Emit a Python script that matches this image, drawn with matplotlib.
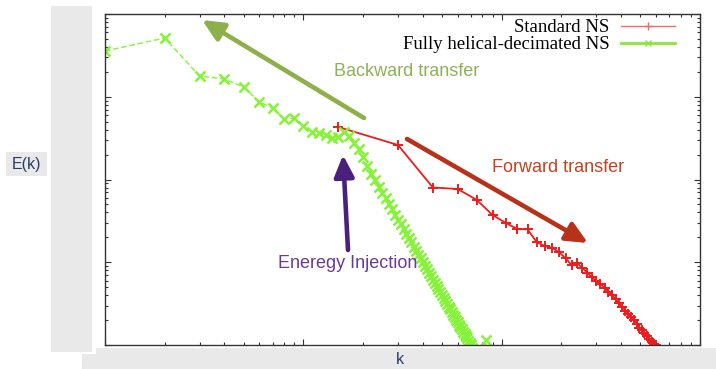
import numpy as np
import matplotlib
matplotlib.use('Agg')
import matplotlib.pyplot as plt
from matplotlib.lines import Line2D
from matplotlib.patches import Rectangle
from matplotlib.ticker import NullFormatter

# energy spectra
k_std = np.arange(15, 631, 15)
E_std = [0.0431, 0.0261, 0.00800, 0.00768, 0.00565, 0.00372, 0.00298, 0.00252,
         0.00250, 0.00176, 0.00157, 0.00149, 0.00132, 0.00112, 0.000926, 0.000980,
         0.00085, 0.00075, 0.00066, 0.00059, 0.00055, 0.00049, 0.00044, 0.00040,
         0.00036, 0.00032, 0.00029, 0.00026, 0.00024, 0.00022, 0.00020, 0.00018,
         0.00016, 0.000150, 0.000138, 0.000127, 0.000117, 0.000110, 0.000104,
         0.0000995, 0.000093, 0.000087]

k_hel = np.arange(1, 87)
E_hel = [0.357, 0.513, 0.178, 0.164, 0.131, 0.0865, 0.0731, 0.0538, 0.0554, 0.0443,
         0.0375, 0.0365, 0.0345, 0.0316, 0.0326, 0.0375, 0.0336, 0.0276, 0.0234, 0.0187,
         0.0146, 0.0118, 0.00979, 0.00822, 0.00695, 0.00590, 0.00505, 0.00435, 0.00377,
         0.00328, 0.00286, 0.00252, 0.00221, 0.00196, 0.00174, 0.00155, 0.00138, 0.00124,
         0.00111, 0.00100, 0.000906, 0.000820, 0.000743, 0.000676, 0.000617, 0.000564,
         0.000515, 0.000473, 0.000435, 0.000400, 0.000368, 0.000340, 0.000315, 0.000291,
         0.000270, 0.000251, 0.000233, 0.000217, 0.000202, 0.000188, 0.000176, 0.000165,
         0.000154, 0.000145, 0.000136, 0.000127, 0.000120, 0.000112, 0.000106, 0.0000998,
         0.0000930, 0.0000860, 0.0000790, 0.0000720, 0.0000660, 0.0000600, 0.0000540,
         0.0000490, 0.0000440, 0.0000400, 0.0000360, 0.0000330, 0.000115, 0.0000290,
         0.0000260, 0.0000230]

labels = ['Standard NS', 'Fully helical-decimated NS']

red = '#ee1c1c'
green = '#86f23a'

fig = plt.figure(figsize=(7.16, 3.69), dpi=100)
W, H = 716.0, 369.0

# grey boxes behind the axis titles
for (x0, y0, x1, y1) in [(51, 6, 92, 352), (96, 348, 716, 369), (82, 354, 716, 369), (6, 152, 47, 176)]:
    fig.patches.append(Rectangle((x0 / W, 1 - y1 / H), (x1 - x0) / W, (y1 - y0) / H,
                                 transform=fig.transFigure, facecolor='#e9e9e9',
                                 edgecolor='none', zorder=0))
fig.text(26 / W, 1 - 164 / H, 'E(k)', ha='center', va='center', color='#2b3a67',
         fontsize=11.5, family='Liberation Sans')
fig.text(400 / W, 1 - 360 / H, 'k', ha='center', va='center', color='#2b3a67',
         fontsize=11.5, family='Liberation Sans')

ax = fig.add_axes([105 / W, 24 / H, 595 / W, 331 / H])
ax.plot(k_std, E_std, color=red, lw=1.3, marker='+', ms=7, mew=1.4)
ax.plot(k_hel, E_hel, color=green, lw=1.0, ls=(0, (4, 2)), marker='x', ms=6.5, mew=1.8)

ax.set_xscale('log')
ax.set_yscale('log')
ax.set_xlim(1, 1000)
ax.set_ylim(1e-4, 1)
for axis in (ax.xaxis, ax.yaxis):
    axis.set_major_formatter(NullFormatter())
    axis.set_minor_formatter(NullFormatter())
ax.tick_params(which='both', direction='in', top=True, right=True, color='#333333', width=0.8)
ax.tick_params(which='major', length=4)
ax.tick_params(which='minor', length=2)
for s in ax.spines.values():
    s.set_linewidth(1.0)
    s.set_color('#333333')

h1 = Line2D([], [], color='#f06a6a', lw=1.0, marker='+', ms=6, mew=1.0)
h2 = Line2D([], [], color='#86e83a', lw=2.0, marker='x', ms=5, mew=1.0)
ax.legend([h1, h2], labels, loc='upper right', bbox_to_anchor=(0.958, 0.985),
          frameon=False, markerfirst=False, borderpad=0, borderaxespad=0,
          prop={'family': 'Liberation Serif', 'size': 13.5},
          handlelength=2.9, labelspacing=0.0, handletextpad=0.6)

# annotation arrows
def arrow(tail, head, color, ms):
    ax.annotate('', xy=((head[0] - 105) / 595, (345 - head[1]) / 331),
                xytext=((tail[0] - 105) / 595, (345 - tail[1]) / 331),
                xycoords='axes fraction', textcoords='axes fraction',
                arrowprops=dict(arrowstyle='-|>,head_length=1.3,head_width=0.6',
                                mutation_scale=ms, lw=3.3, color=color,
                                shrinkA=0, shrinkB=0))

arrow((364, 118), (202, 20), '#8db04a', 10)
arrow((407, 139), (588, 243), '#b8321a', 10)
arrow((348, 250), (343, 155), '#4b1f7c', 10)

ax.text((334 - 105) / 595, (345 - 72) / 331, 'Backward transfer', transform=ax.transAxes,
        color='#8db255', fontsize=13, family='Liberation Sans', va='center')
ax.text((492 - 105) / 595, (345 - 167) / 331, 'Forward transfer', transform=ax.transAxes,
        color='#c8401f', fontsize=13, family='Liberation Sans', va='center')
ax.text((278 - 105) / 595, (345 - 263) / 331, 'Eneregy Injection', transform=ax.transAxes,
        color='#6b3a97', fontsize=13, family='Liberation Sans', va='center')

fig.savefig('out.png', dpi=100)
